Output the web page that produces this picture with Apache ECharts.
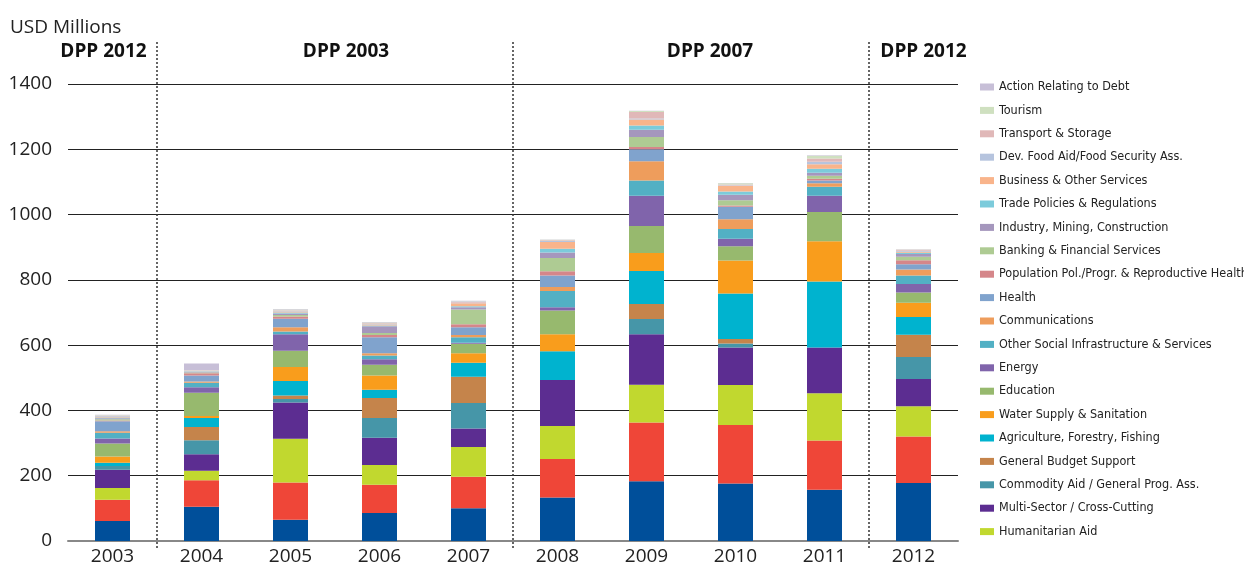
<!DOCTYPE html>
<html>
<head>
<meta charset="utf-8">
<script src="https://cdn.jsdelivr.net/npm/echarts@6/dist/echarts.min.js"></script>
<style>
html, body { margin: 0; padding: 0; background: #fff; }
#main { width: 1244px; height: 566px; }
</style>
</head>
<body>
<div id="main"></div>
<script>
// years on the x axis
var years = ['2003', '2004', '2005', '2006', '2007', '2008', '2009', '2010', '2011', '2012'];

// sector values, USD millions, bottom of the stack first
var govCivil      = [61, 105, 65, 86, 100, 133, 183, 176, 157, 178];
var unallocated   = [65, 81, 114, 86, 97, 118, 180, 179, 151, 142];
var humanitarian  = [36, 29, 134, 61, 91, 101, 116, 123, 145, 93];
var multiSector   = [56, 51, 111, 83, 57, 141, 154, 115, 140, 83];
var commodityAid  = [12, 43, 11, 61, 78, 0, 47, 12, 0, 68];
var budgetSupport = [0, 40, 11, 61, 80, 0, 46, 14, 0, 68];
var agriculture   = [10, 28, 44, 25, 43, 88, 101, 139, 202, 54];
var water         = [19, 6, 43, 44, 29, 52, 55, 101, 123, 44];
var education     = [40, 71, 50, 33, 29, 73, 83, 44, 90, 31];
var energy        = [15, 17, 50, 17, 3, 10, 93, 23, 50, 26];
var otherSocial   = [18, 14, 9, 11, 17, 50, 46, 30, 27, 26];
var communication = [4, 4, 13, 7, 7, 12, 59, 30, 11, 19];
var health        = [31, 18, 26, 49, 24, 35, 37, 38, 8, 16];
var population    = [2, 7, 7, 7, 9, 13, 7, 4, 6, 12];
var banking       = [4, 2, 4, 6, 45, 41, 31, 16, 9, 11];
var industry      = [3, 2, 5, 21, 7, 17, 22, 17, 9, 8];
var trade         = [2, 1, 3, 2, 3, 11, 13, 10, 12, 4];
var business      = [2, 1, 3, 3, 9, 21, 18, 17, 14, 3];
var foodAid       = [2, 1, 2, 2, 2, 3, 3, 2, 8, 3];
var transport     = [2, 1, 2, 2, 2, 2, 20, 2, 10, 3];
var tourism       = [1, 1, 2, 2, 2, 2, 3, 4, 8, 1];
var debt          = [2, 21, 2, 2, 2, 1, 1, 1, 2, 1];

// programme periods: [first year index, last year index, label]
var periods = [[0, 0, 'DPP 2012'], [1, 4, 'DPP 2003'], [5, 8, 'DPP 2007'], [9, 9, 'DPP 2012']];

var sectors = [
    ['Government & Civil Society', govCivil, '#004f9a'],
    ['Unallocated / Unspecified', unallocated, '#ef4638'],
    ['Humanitarian Aid', humanitarian, '#c1d82f'],
    ['Multi-Sector / Cross-Cutting', multiSector, '#5c2d91'],
    ['Commodity Aid / General Prog. Ass.', commodityAid, '#4696a8'],
    ['General Budget Support', budgetSupport, '#c5844b'],
    ['Agriculture, Forestry, Fishing', agriculture, '#00b3cf'],
    ['Water Supply & Sanitation', water, '#f99d1c'],
    ['Education', education, '#97b96e'],
    ['Energy', energy, '#8064ab'],
    ['Other Social Infrastructure & Services', otherSocial, '#52b0c4'],
    ['Communications', communication, '#ee9d5c'],
    ['Health', health, '#80a3cd'],
    ['Population Pol./Progr. & Reproductive Health', population, '#d5868a'],
    ['Banking & Financial Services', banking, '#aecb93'],
    ['Industry, Mining, Construction', industry, '#a597bd'],
    ['Trade Policies & Regulations', trade, '#7ccbdb'],
    ['Business & Other Services', business, '#f9b48b'],
    ['Dev. Food Aid/Food Security Ass.', foodAid, '#b6c4de'],
    ['Transport & Storage', transport, '#e0b8b8'],
    ['Tourism', tourism, '#cfe0c0'],
    ['Action Relating to Debt', debt, '#c7bfd7']
];

var series = sectors.map(function (s) {
    return {
        name: s[0],
        type: 'bar',
        stack: 'total',
        barWidth: 35,
        data: s[1],
        itemStyle: { color: s[2] }
    };
});

// legend lists the top of the stack first, the two bottom sectors are not shown
var legendNames = sectors.slice(2).map(function (s) { return s[0]; }).reverse();

var axisFont = 'Open Sans, Noto Sans, sans-serif';

var myecharts = echarts.init(document.getElementById('main'));
var option = {
    animation: false,
    grid: { left: 68, right: 286, top: 84, bottom: 24 },
    legend: {
        data: legendNames,
        orient: 'vertical',
        left: 975,
        top: 74,
        itemWidth: 14,
        itemHeight: 7,
        itemGap: 7.4,
        icon: 'rect',
        textStyle: {
            fontFamily: 'Liberation Sans Narrow, DejaVu Sans Condensed, sans-serif',
            fontSize: 12.5,
            lineHeight: 16,
            color: '#222'
        }
    },
    xAxis: {
        type: 'category',
        data: years,
        axisLine: { lineStyle: { color: '#888', width: 2 } },
        axisTick: { length: 8, lineStyle: { color: '#888', width: 1.5 } },
        axisLabel: { fontFamily: axisFont, fontSize: 19, color: '#222', margin: 6 }
    },
    yAxis: {
        type: 'value',
        min: 0,
        max: 1400,
        interval: 200,
        axisLine: { show: false },
        axisTick: { show: false },
        splitLine: { lineStyle: { color: '#222', width: 1.2 } },
        axisLabel: {
            fontFamily: axisFont,
            fontSize: 19,
            color: '#222',
            margin: 16,
            formatter: function (v) { return String(v); }
        }
    },
    series: series
};
myecharts.setOption(option);

// period dividers and labels placed through the category scale
var centre = function (i) { return myecharts.convertToPixel({ xAxisIndex: 0 }, i); };
var step = centre(1) - centre(0);
var labelShift = [-9, 11, 19, 10];
var graphics = [{
    type: 'text',
    left: 10,
    top: 18,
    style: { text: 'USD Millions', font: '19px ' + axisFont, fill: '#222' }
}];
periods.forEach(function (p, k) {
    var x0 = centre(p[0]) - step / 2;
    var x1 = centre(p[1]) + step / 2;
    graphics.push({
        type: 'text',
        x: (x0 + x1) / 2 + labelShift[k],
        y: 52,
        style: {
            text: p[2],
            font: 'bold 19px ' + axisFont,
            fill: '#111',
            align: 'center',
            verticalAlign: 'middle'
        }
    });
    if (k > 0) {
        graphics.push({
            type: 'line',
            shape: { x1: x0, y1: 42, x2: x0, y2: 550 },
            style: { stroke: '#333', lineWidth: 1.5, lineDash: [2, 2] },
            z: 10
        });
    }
});
myecharts.setOption({ graphic: graphics });
</script>
</body>
</html>
